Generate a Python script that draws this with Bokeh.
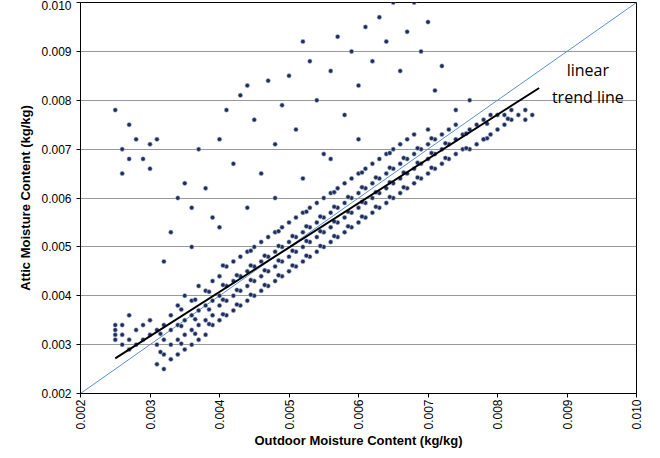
import math
from bokeh.plotting import figure
from bokeh.models import Range1d, FixedTicker, Label, NumeralTickFormatter
from bokeh.embed import file_html
from bokeh.resources import INLINE

band = [
 (0.0025,[0.0033,0.0031,0.0032,0.0034]),(0.0026,[0.0030,0.0034,0.0032]),(0.0027,[0.0029,0.0031,0.0036]),
 (0.0028,[0.0030,0.0033]),(0.0029,[0.0031,0.0034]),(0.0030,[0.0032,0.0035]),(0.0031,[0.0026,0.0030,0.0033]),
 (0.0032,[0.0025,0.0028,0.0031,0.0034]),(0.0033,[0.0027,0.0030,0.0033,0.0036]),(0.0034,[0.0028,0.0031,0.0034,0.0038]),
 (0.0035,[0.0029,0.0032,0.0035,0.0040]),(0.0036,[0.0030,0.0033,0.0036,0.0039]),(0.0037,[0.0031,0.0034,0.0037,0.0042]),
 (0.0038,[0.0032,0.0035,0.0038,0.0041]),(0.0039,[0.0034,0.0036,0.0039,0.0043]),(0.0040,[0.0035,0.0038,0.0040,0.0044]),
 (0.0041,[0.0036,0.0039,0.0042,0.0046]),(0.0042,[0.0037,0.0040,0.0043,0.0047]),(0.0043,[0.0038,0.0041,0.0044,0.0048]),
 (0.0044,[0.0039,0.0042,0.0045,0.0049]),(0.0045,[0.0040,0.0043,0.0046,0.0050]),(0.0046,[0.0041,0.0044,0.0047,0.0051]),
 (0.0047,[0.0042,0.0045,0.0048,0.0052]),(0.0048,[0.0043,0.0046,0.0049,0.0053]),(0.0049,[0.0044,0.0047,0.0050,0.0054]),
 (0.0050,[0.0045,0.0048,0.0051,0.0055]),(0.0051,[0.0046,0.0049,0.0052,0.0056]),(0.0052,[0.0047,0.0050,0.0053,0.0057]),
 (0.0053,[0.0048,0.0051,0.0054,0.0058]),(0.0054,[0.0049,0.0052,0.0055,0.0059]),(0.0055,[0.0050,0.0053,0.0056,0.0060]),
 (0.0056,[0.0051,0.0054,0.0057,0.0061]),(0.0057,[0.0052,0.0055,0.0058,0.0062]),(0.0058,[0.0053,0.0056,0.0059,0.0063]),
 (0.0059,[0.0054,0.0057,0.0060,0.0064]),(0.0060,[0.0055,0.0058,0.0061,0.0065]),(0.0061,[0.0056,0.0059,0.0062,0.0066]),
 (0.0062,[0.0057,0.0060,0.0063,0.0067]),(0.0063,[0.0058,0.0061,0.0064,0.0068]),(0.0064,[0.0059,0.0062,0.0065,0.0069]),
 (0.0065,[0.0060,0.0063,0.0066,0.0070]),(0.0066,[0.0061,0.0064,0.0067,0.0071]),(0.0067,[0.0062,0.0065,0.0068,0.0072]),
 (0.0068,[0.0063,0.0066,0.0069,0.0073]),(0.0069,[0.0064,0.0067,0.0070]),(0.0070,[0.0065,0.0068,0.0071,0.0074]),
 (0.0071,[0.0066,0.0069,0.0072]),(0.0072,[0.0067,0.0070,0.0073]),(0.0073,[0.0068,0.0071,0.0074]),
 (0.0074,[0.0069,0.0072,0.0075]),(0.0075,[0.0070,0.0073]),(0.0076,[0.0070,0.0074]),(0.0077,[0.0071,0.0075]),
 (0.0078,[0.0072,0.0076]),(0.0079,[0.0073,0.0077]),(0.0080,[0.0074,0.0077]),(0.0081,[0.0075,0.0077]),
 (0.0082,[0.0076,0.0078]),(0.0083,[0.0077]),(0.0084,[0.0076,0.0078]),(0.0085,[0.0077]),
]
band2 = [
 (0.00315,[0.00285,0.00322]),(0.00345,[0.00302,0.00338,0.00372]),(0.00365,[0.00322,0.00352,0.00392]),
 (0.00385,[0.00342,0.00372,0.00408]),(0.00405,[0.00362,0.00392,0.00422,0.00462]),(0.00425,[0.00382,0.00412,0.00442]),
 (0.00445,[0.00402,0.00432,0.00462,0.00492]),(0.00465,[0.00422,0.00452,0.00482]),(0.00485,[0.00442,0.00472,0.00502,0.00532]),
 (0.00505,[0.00462,0.00492,0.00522]),(0.00525,[0.00482,0.00512,0.00542,0.00572]),(0.00545,[0.00502,0.00532,0.00562]),
 (0.00565,[0.00522,0.00552,0.00582,0.00612]),(0.00585,[0.00542,0.00572,0.00602]),(0.00605,[0.00562,0.00592,0.00622,0.00652]),
 (0.00625,[0.00582,0.00612,0.00642]),(0.00645,[0.00602,0.00632,0.00662,0.00692]),(0.00665,[0.00622,0.00652,0.00682]),
 (0.00685,[0.00642,0.00672,0.00702]),(0.00705,[0.00662,0.00692,0.00722]),(0.00725,[0.00682,0.00712]),
 (0.00755,[0.00702,0.00732]),(0.00785,[0.00722,0.00752]),(0.00815,[0.00762]),
]
outlier_x = [0.0025,0.0026,0.0026,0.0027,0.0027,0.0028,0.0029,0.0030,0.0031,0.0030,0.0033,0.0034,0.0035,0.0036,0.0037,
 0.0038,0.0039,0.0040,0.0041,0.0042,0.0043,0.0044,0.0045,0.0046,0.0047,0.0048,0.0049,0.0050,0.0051,0.0052,0.0053,0.0054,
 0.0055,0.0056,0.0057,0.0058,0.0059,0.0060,0.0061,0.0062,0.0063,0.0064,0.0065,0.0066,0.0067,0.0068,0.0069,0.0070,0.0071,
 0.0072,0.0074,0.0076,0.0078,0.0032,0.0036,0.0040,0.0044,0.0048,0.0052,0.0056,0.0060]
outlier_y = [0.0078,0.0070,0.0065,0.0075,0.0068,0.0072,0.0068,0.0071,0.0072,0.0066,0.0053,0.0060,0.0063,0.0058,0.0070,
 0.0062,0.0056,0.0072,0.0078,0.0067,0.0081,0.0083,0.0076,0.0065,0.0084,0.0071,0.0079,0.0085,0.0074,0.0092,0.0088,0.0080,
 0.0069,0.0086,0.0093,0.0077,0.0090,0.0083,0.0095,0.0088,0.0097,0.0092,0.0100,0.0086,0.0094,0.0100,0.0090,0.0096,0.0082,
 0.0087,0.0078,0.0080,0.0072,0.0047,0.0050,0.0054,0.0058,0.0060,0.0064,0.0068,0.0072]
trend_x = [0.0025, 0.0086]
trend_y = [0.00272, 0.00825]
ticks = [0.002,0.003,0.004,0.005,0.006,0.007,0.008,0.009,0.010]

xs = [x for x, ys in band + band2 for _ in ys] + outlier_x
ys_ = [y for _, ys in band + band2 for y in ys] + outlier_y

p = figure(width=644, height=450, output_backend="svg", toolbar_location=None,
           x_range=Range1d(0.002, 0.010), y_range=Range1d(0.002, 0.010),
           min_border_left=80, min_border_right=8, min_border_top=2, min_border_bottom=40)
p.outline_line_color = "black"
p.xgrid.visible = False
p.ygrid.grid_line_color = "#999999"
p.ygrid.ticker = FixedTicker(ticks=ticks)
for ax in (p.xaxis, p.yaxis):
    ax.ticker = FixedTicker(ticks=ticks)
    ax.formatter = NumeralTickFormatter(format="0.000")
    ax.major_label_text_font = "Liberation Sans"
    ax.major_label_text_font_size = "12px"
    ax.major_label_text_color = "black"
    ax.axis_label_text_font = "Liberation Sans"
    ax.axis_label_text_font_style = "bold"
    ax.axis_label_text_font_size = "13px"
    ax.axis_label_text_color = "black"
    ax.minor_tick_line_color = None
    ax.major_tick_in = 0
    ax.major_tick_out = 4
p.xaxis.major_label_orientation = math.pi / 2
p.xaxis.major_label_standoff = 2
p.xaxis.axis_label_standoff = 0
p.xaxis.axis_label = "Outdoor Moisture Content (kg/kg)"
p.yaxis.axis_label = "Attic Moisture Content (kg/kg)"

p.line([0.002, 0.010], [0.002, 0.010], line_color="#5b8fd0", line_width=1)
p.scatter(xs, ys_, size=4.5, fill_color="#1f2d5a", line_color="#b8c4dc", line_width=0.6)
p.line(trend_x, trend_y, line_color="black", line_width=2)
p.add_layout(Label(x=0.0093, y=0.00785, text="linear\ntrend line", text_align="center",
                   text_font="Open Sans", text_font_size="16px", text_color="black"))

open("out.html", "w").write(file_html(p, INLINE))
